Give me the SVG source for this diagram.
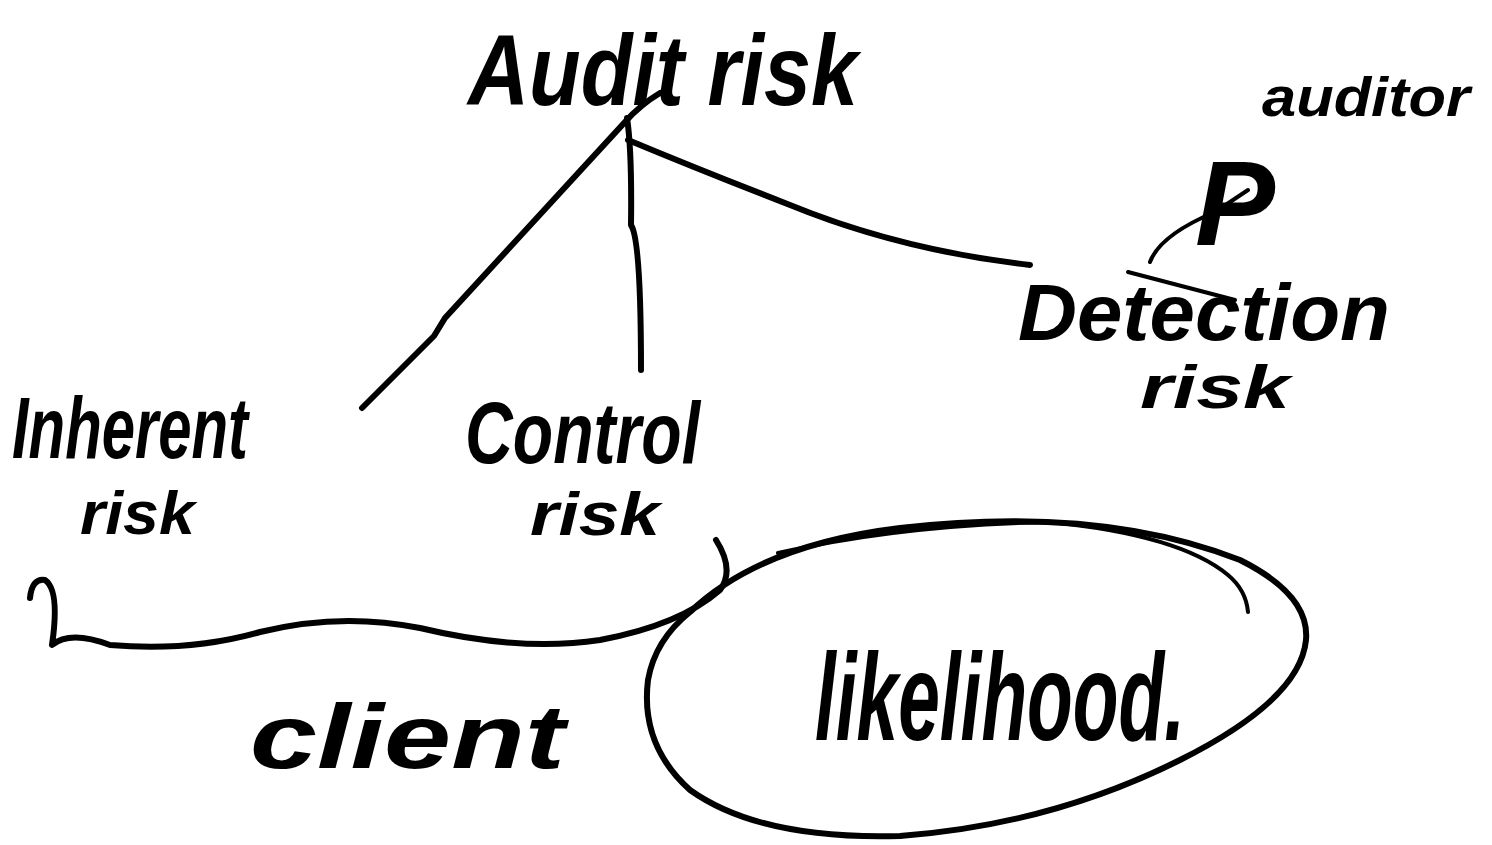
<svg xmlns="http://www.w3.org/2000/svg" width="1492" height="845" viewBox="0 0 1492 845">
<style>
.t{font-family:"Liberation Sans","DejaVu Sans",sans-serif;font-weight:bold;font-style:italic;fill:#000}
.s{fill:none;stroke:#000;stroke-width:6;stroke-linecap:round;stroke-linejoin:round}
.th{fill:none;stroke:#000;stroke-width:4;stroke-linecap:round;stroke-linejoin:round}
</style>
<rect width="1492" height="845" fill="#fff"/>
<g id="connectors">
<path class="s" d="M660 93 Q640 105 625 122 L445 318 L434 336 L362 408"/>
<path class="s" d="M627 118 Q632 150 631 225 Q641 240 641 370"/>
<path class="s" d="M628 140 Q700 170 790 205 Q900 250 1030 265"/>
<path class="s" d="M30 598 Q32 578 45 580 Q60 590 52 645 Q70 630 110 645 Q190 652 260 632 Q340 612 420 628 Q520 652 600 640 Q680 625 720 590 Q735 570 716 540"/>
</g>
<g id="audit-risk"><text class="t" x="468" y="105" font-size="100" textLength="390" lengthAdjust="spacingAndGlyphs">Audit risk</text></g>
<g id="auditor"><text class="t" x="1262" y="116" font-size="55" textLength="208" lengthAdjust="spacingAndGlyphs">auditor</text></g>
<g id="detection-risk">
<text class="t" x="1195" y="245" font-size="120">P</text>
<path class="th" d="M1150 262 Q1160 235 1215 212 L1248 190"/>
<text class="t" x="1018" y="340" font-size="80" textLength="372" lengthAdjust="spacingAndGlyphs">Detection</text>
<path class="th" d="M1128 272 L1235 300"/>
<text class="t" x="1140" y="408" font-size="62" textLength="150" lengthAdjust="spacingAndGlyphs">risk</text>
</g>
<g id="inherent-risk">
<text class="t" x="12" y="458" font-size="88" textLength="236" lengthAdjust="spacingAndGlyphs">Inherent</text>
<text class="t" x="80" y="534" font-size="62" textLength="115" lengthAdjust="spacingAndGlyphs">risk</text>
</g>
<g id="control-risk">
<text class="t" x="465" y="463" font-size="88" textLength="235" lengthAdjust="spacingAndGlyphs">Control</text>
<text class="t" x="530" y="535" font-size="62" textLength="130" lengthAdjust="spacingAndGlyphs">risk</text>
</g>
<g id="client"><text class="t" x="250" y="768" font-size="90" textLength="315" lengthAdjust="spacingAndGlyphs">client</text></g>
<g id="likelihood">
<path class="s" d="M690 612 Q760 545 900 528 Q1100 505 1240 560 Q1310 595 1306 640 Q1300 700 1180 760 Q1050 825 900 836 Q760 840 690 790 Q640 745 648 680 Q655 640 690 612 Z"/>
<path class="th" d="M778 553 Q900 525 1050 522 Q1180 535 1228 575 Q1246 590 1248 612"/>
<text class="t" x="815" y="740" font-size="125" textLength="370" lengthAdjust="spacingAndGlyphs">likelihood.</text>
</g>
</svg>
